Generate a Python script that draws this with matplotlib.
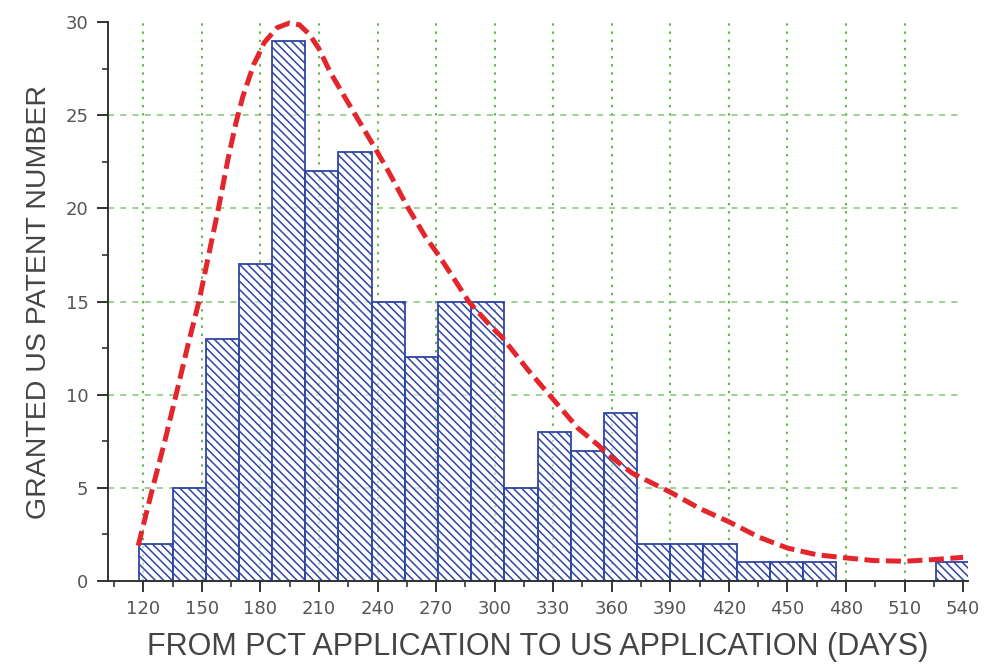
import matplotlib
matplotlib.use("Agg")
import matplotlib.pyplot as plt
import numpy as np

# ---- data ----
bin_start = 118
bin_width = 17
counts = [2, 5, 13, 17, 29, 22, 23, 15, 12, 15, 15, 5, 8, 7, 9, 2, 2, 2, 1, 1, 1, 0, 0, 0, 1]

curve_x = [117.4, 124.8, 131.0, 136.8, 142.5, 148.5, 153.5, 158.5, 163.5, 167.5, 171.0,
           176.5, 182.0, 188.6, 195.0, 200.0, 205.0, 209.8, 215.8, 222.5, 231.0, 237.8,
           245.5, 255.8, 264.4, 271.2, 278.1, 286.7, 298.7, 303.7, 317.3, 329.2, 342.7,
           353.0, 358.0, 370.3, 390.0, 404.9, 420.0, 435.5, 450.0, 465.0, 480.0, 494.0,
           510.0, 525.0, 540.0]
curve_y = [1.9, 5.0, 7.5, 10.0, 12.5, 15.0, 17.5, 20.0, 22.7, 24.6, 26.0,
           27.7, 28.9, 29.7, 29.95, 29.85, 29.35, 28.6, 27.3, 26.1, 24.6, 23.4,
           22.0, 20.0, 18.5, 17.5, 16.4, 15.0, 13.6, 13.1, 11.3, 9.85, 8.2,
           7.3, 6.8, 5.8, 4.77, 3.9, 3.18, 2.35, 1.77, 1.41, 1.24, 1.1,
           1.06, 1.15, 1.27]

x_ticks = list(range(120, 541, 30))
y_ticks = [0, 5, 10, 15, 20, 25, 30]
x_label = "FROM PCT APPLICATION TO US APPLICATION (DAYS)"
y_label = "GRANTED US PATENT NUMBER"

# ---- figure ----
plt.rcParams['hatch.linewidth'] = 1.1
fig = plt.figure(figsize=(9.86, 6.66), dpi=100)
ax = fig.add_axes([0.1095, 0.1276, 0.8722, 0.8393])

ax.set_xlim(101.9, 542.5)
ax.set_ylim(0, 30)

grid_v = [t for t in x_ticks if t <= 510]
ax.vlines(grid_v, 0, 30, colors='#5fb34a', linewidth=1.4,
          linestyles=[(0, (1.2, 3.0))], zorder=1)
ax.hlines([5, 10, 15, 20, 25], 101.9, 540, colors='#86c27a', linewidth=1.1,
          linestyles=[(0, (4, 4))], zorder=1)

lefts = [bin_start + i * bin_width for i in range(len(counts))]
ax.bar(lefts, counts, width=bin_width, align='edge', facecolor=(1, 1, 1, 0.55),
       edgecolor='#2f45a5', linewidth=1.3, hatch='\\\\\\\\', zorder=2)

ax.plot(curve_x, curve_y, color='#e3262b', linewidth=3.6,
        linestyle=(0, (3, 1.3)), zorder=3, clip_on=False)

for s in ['top', 'right']:
    ax.spines[s].set_visible(False)
for s in ['left', 'bottom']:
    ax.spines[s].set_color('#333333')
    ax.spines[s].set_linewidth(1.4)

ax.set_xticks(x_ticks)
ax.set_xticks(list(range(105, 541, 30)), minor=True)
ax.set_yticks(y_ticks)
ax.set_yticks([2.5, 7.5, 12.5, 17.5, 22.5, 27.5], minor=True)
ax.tick_params(axis='both', which='major', length=8, width=1.4, color='#333333',
               labelcolor='#555555', labelsize=13, pad=6, direction='out')
ax.tick_params(axis='both', which='minor', length=4, width=1.2, color='#333333',
               direction='out')
for lab in ax.get_xticklabels() + ax.get_yticklabels():
    lab.set_family('DejaVu Sans')

ax.set_xlabel(x_label, fontsize=22, color='#444444', family='Liberation Sans',
              labelpad=10)
ax.set_ylabel(y_label, fontsize=20.5, color='#444444', family='Liberation Sans',
              labelpad=10)

fig.savefig("out.png", dpi=100)
